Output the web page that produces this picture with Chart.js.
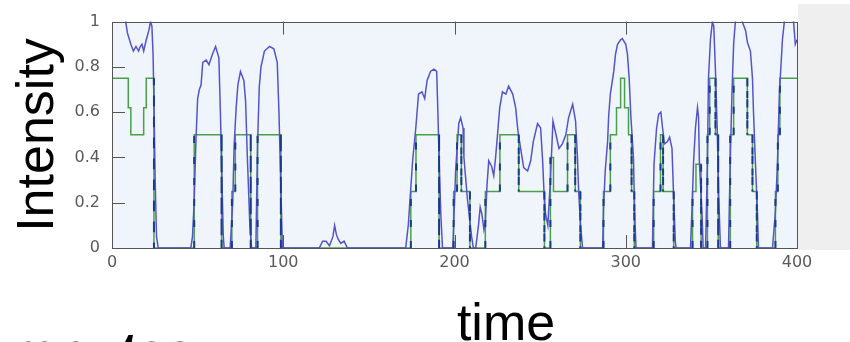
<!DOCTYPE html>
<html>
<head>
<meta charset="utf-8">
<script src="https://cdn.jsdelivr.net/npm/chart.js@4.4.0/dist/chart.umd.min.js"></script>
<style>
  html, body { margin: 0; padding: 0; width: 850px; height: 342px; overflow: hidden; background: #fff; }
  #wrap { position: relative; width: 850px; height: 342px; overflow: hidden; }
  #side { position: absolute; left: 798px; top: 4px; width: 52px; height: 246px; background: #efefef; }
  canvas { position: absolute; left: 0; top: 0; }
  .big { position: absolute; font-family: "Liberation Sans", Arial, sans-serif; font-size: 52px; line-height: 52px;
         color: #000; white-space: nowrap; text-align: center; }
  #ylab { left: -95px; top: 109px; width: 260px; height: 52px; transform: rotate(-90deg); }
  #xlab { left: 406px; top: 296px; width: 200px; }
  #frag { left: 8px; top: 325px; text-align: left; font-style: italic; font-weight: bold; }
</style>
</head>
<body>
<div id="wrap">
  <div id="side"></div>
  <canvas id="intensityChart" width="850" height="342"></canvas>
  <div class="big" id="ylab">Intensity</div>
  <div class="big" id="xlab">time</div>
  <div class="big" id="frag">mnutes:</div>
</div>
<script>
const blueTimes = [
  0, 7, 8, 9, 11, 12.5, 14, 15.5, 16.5, 17.5, 18.5, 20, 21.5, 22.5, 23.3, 24, 24.6, 25.2, 26, 27,
  46, 47, 48, 49, 50, 51, 52, 53, 55, 56.6, 58.6, 60.5, 62.4, 63.3, 64.2, 65, 65.5,
  69, 70.5, 71.3, 72.5, 73.5, 75, 77, 78, 79, 80.5, 81.5,
  84, 85, 86, 87, 89, 92, 94.5, 96.5, 97.5, 98.6, 99.5,
  121, 123, 125, 127, 129, 130, 131, 132, 133.6, 135.5, 137.5,
  171.5, 173, 175.6, 177.4, 179, 181, 182.6, 184, 186, 188, 189.6, 190.3, 191, 192, 193,
  199, 200, 200.7, 201.8, 202.5, 203.6, 205, 205.5, 207.5, 208.5, 210, 211,
  212.4, 214, 215, 216, 217.2, 218,
  219, 220, 221.7, 222.9, 224, 225, 226.4, 228, 230, 231.6, 234, 235.7, 237, 238.6, 240.4, 242.7,
  244.5, 246, 248.5, 250.3, 251.5, 252.3, 253.2, 254.5,
  256, 257.5, 259, 261, 263, 265, 266.6, 269, 269.8, 270.7, 271.8, 272.5, 273.6, 274.8,
  286.5, 287, 288, 289.4, 290, 291, 293, 294, 295.2, 297, 298, 300, 301, 302, 303, 304.5, 305.2, 306,
  315.6, 316.5, 318, 319.2, 320.5, 321.5, 322.6, 324.4, 325.6, 327, 327.9, 329, 329.5,
  337.8, 339, 339.6, 340.7, 341.9, 342.5, 343, 344.6, 345.2, 346.6, 347.7, 348.3, 349.5, 350.6,
  351.4, 352.4, 353.4, 354.2, 355.3,
  360, 361, 362, 363, 364, 366, 368, 370, 371, 372.8, 374, 374.6, 375.7, 376.9, 377.5,
  385.7, 387.4, 388.6, 389.7, 391.5, 392.6, 395, 398, 399, 400
];
const blueValues = [
  1.06, 1.03, 1.0, 0.95, 0.90, 0.87, 0.89, 0.87, 0.89, 0.90, 0.87, 0.92, 0.96, 1.0, 0.98, 0.85, 0.6, 0.3, 0.05, 0,
  0, 0.05, 0.21, 0.47, 0.66, 0.70, 0.72, 0.82, 0.83, 0.81, 0.855, 0.89, 0.84, 0.6, 0.3, 0.05, 0,
  0, 0.2, 0.45, 0.62, 0.72, 0.78, 0.74, 0.65, 0.41, 0.1, 0,
  0, 0.46, 0.71, 0.80, 0.87, 0.89, 0.88, 0.82, 0.6, 0.27, 0,
  0, 0.03, 0.03, 0.01, 0.05, 0.10, 0.06, 0.04, 0.02, 0.03, 0,
  0, 0.1, 0.39, 0.53, 0.68, 0.69, 0.66, 0.74, 0.78, 0.79, 0.78, 0.6, 0.4, 0.15, 0,
  0, 0.2, 0.35, 0.47, 0.55, 0.575, 0.53, 0.4, 0.22, 0.15, 0.05, 0,
  0, 0.1, 0.18, 0.15, 0.08, 0.11,
  0.28, 0.385, 0.36, 0.32, 0.40, 0.49, 0.62, 0.69, 0.68, 0.715, 0.68, 0.62, 0.52, 0.44, 0.355, 0.34,
  0.385, 0.47, 0.55, 0.53, 0.38, 0.24, 0.15, 0.1,
  0.3, 0.56, 0.51, 0.44, 0.46, 0.5, 0.575, 0.635, 0.6, 0.56, 0.4, 0.25, 0.1, 0,
  0, 0.17, 0.34, 0.47, 0.58, 0.68, 0.78, 0.855, 0.90, 0.92, 0.925, 0.90, 0.855, 0.75, 0.58, 0.4, 0.15, 0,
  0, 0.37, 0.53, 0.59, 0.6, 0.53, 0.46, 0.47, 0.49, 0.44, 0.24, 0.02, 0,
  0, 0.24, 0.38, 0.53, 0.62, 0.58, 0.38, 0.14, 0, 0, 0.38, 0.75, 0.925, 1.0,
  0.98, 0.78, 0.53, 0.25, 0,
  0, 0.38, 0.68, 0.9, 1.0, 1.03, 1.0, 0.96, 0.91, 0.87, 0.75, 0.6, 0.38, 0.16, 0,
  0, 0.16, 0.38, 0.68, 0.92, 1.0, 1.04, 1.0, 0.9, 0.92
];

// quantised level (green): level holds from each time until the next one
const greenTimes = [
  0, 9.5, 11, 18.5, 20, 24.5, 48, 64, 70, 72, 81, 85, 98.6,
  174.5, 177.5, 191, 199.5, 201.5, 204, 209, 218, 226.5, 237.5, 252.5,
  256, 257.8, 266, 270.5, 273.5, 287, 291, 294.6, 297, 299.3, 301.6, 303.4, 305,
  316.3, 320.3, 321.8, 328, 339, 341, 344, 347.7, 349, 352.4, 354,
  361, 363, 371, 374, 376.5, 387.4, 388.8, 390
];
const greenLevels = [
  0.75, 0.62, 0.5, 0.62, 0.75, 0, 0.5, 0, 0.25, 0.5, 0, 0.5, 0,
  0.25, 0.5, 0, 0.25, 0.5, 0.25, 0, 0.25, 0.5, 0.25, 0,
  0.4, 0.25, 0.5, 0.25, 0, 0.25, 0.5, 0.62, 0.75, 0.62, 0.5, 0.25, 0,
  0.25, 0.5, 0.25, 0, 0.25, 0.37, 0, 0.5, 0.75, 0.5, 0,
  0.5, 0.75, 0.5, 0.25, 0, 0.25, 0.5, 0.75
];

const xTickValues = [0, 100, 200, 300, 400];
const yTickValues = [0, 0.2, 0.4, 0.6, 0.8, 1];

function buildBluePoints() {
    return blueTimes.map( function( t, i ) {
        return { x: t, y: blueValues[ i ] };
    } );
}

function buildGreenPoints() {
    let pts = [];
    greenTimes.forEach( function( t, i ) {
        if ( i > 0 ) pts.push( { x: t, y: greenLevels[ i - 1 ] } );
        pts.push( { x: t, y: greenLevels[ i ] } );
    } );
    pts.push( { x: 400, y: greenLevels[ greenLevels.length - 1 ] } );
    return pts;
}

function isTallEdge( c ) {
    return c.p0.parsed.x === c.p1.parsed.x && Math.abs( c.p0.parsed.y - c.p1.parsed.y ) >= 0.2;
}

// light blue plot area, box and inward ticks (matlab style)
const frameBox = {
    id: 'frameBox',
    beforeDraw( chart ) {
        const a = chart.chartArea, ctx = chart.ctx;
        ctx.save();
        ctx.fillStyle = '#f0f5fc';
        ctx.fillRect( a.left, a.top, a.right - a.left, a.bottom - a.top );
        ctx.restore();
    },
    afterDatasetsDraw( chart ) {
        const a = chart.chartArea, ctx = chart.ctx;
        const xs = chart.scales.x, ys = chart.scales.y;
        ctx.save();
        ctx.strokeStyle = '#555';
        ctx.lineWidth = 1;
        ctx.beginPath();
        yTickValues.forEach( function( v ) {
            if ( v === 0 || v === 1 ) return;
            const py = Math.round( ys.getPixelForValue( v ) ) + 0.5;
            ctx.moveTo( a.left, py );
            ctx.lineTo( a.left + 13, py );
        } );
        xTickValues.forEach( function( v ) {
            if ( v === 0 || v === 400 ) return;
            const px = Math.round( xs.getPixelForValue( v ) ) + 0.5;
            ctx.moveTo( px, a.top );
            ctx.lineTo( px, a.top + 13 );
            ctx.moveTo( px, a.bottom );
            ctx.lineTo( px, a.bottom - 13 );
        } );
        ctx.stroke();
        ctx.strokeRect( Math.round( a.left ) + 0.5, Math.round( a.top ) + 0.5,
                        Math.round( a.right - a.left ), Math.round( a.bottom - a.top ) );
        ctx.restore();
    }
};

let ctx = document.getElementById( 'intensityChart' ).getContext( '2d' );
let greenPoints = buildGreenPoints();
let intensityChart = new Chart( ctx, {
    type: 'line',
    data: {
        datasets: [
            {
                label: 'edges',
                data: greenPoints,
                borderColor: 'rgba(0,0,0,0)',
                borderWidth: 2,
                segment: {
                    borderColor: c => isTallEdge( c ) ? '#1c3a8a' : 'rgba(0,0,0,0)',
                    borderDash: c => isTallEdge( c ) ? [ 7, 14 ] : undefined,
                },
                order: 1,
            },
            {
                label: 'intensity',
                data: buildBluePoints(),
                borderColor: '#5454c8',
                borderWidth: 1.5,
                order: 2,
            },
            {
                label: 'level',
                data: greenPoints,
                borderColor: '#48a048',
                borderWidth: 1.5,
                order: 3,
            },
        ],
    },
    options: {
        responsive: false,
        animation: false,
        layout: {
            padding: { left: 0, right: 53, top: 20, bottom: 0 },
            autoPadding: false,
        },
        elements: {
            point: { radius: 0 },
            line: { tension: 0 },
        },
        plugins: {
            legend: { display: false },
            tooltip: { enabled: false },
        },
        scales: {
            x: {
                type: 'linear',
                min: 0,
                max: 400,
                afterBuildTicks: s => { s.ticks = xTickValues.map( v => ( { value: v } ) ); },
                ticks: {
                    color: '#5a5a5a',
                    padding: 5,
                    maxRotation: 0,
                    font: { family: 'DejaVu Sans', size: 16 },
                },
                grid: { display: false, drawTicks: false },
                border: { display: false },
                afterFit: s => { s.height = 94; },
            },
            y: {
                min: 0,
                max: 1,
                afterBuildTicks: s => { s.ticks = yTickValues.map( v => ( { value: v } ) ); },
                ticks: {
                    color: '#5a5a5a',
                    padding: 12,
                    font: { family: 'DejaVu Sans', size: 16 },
                    callback: v => String( Number( v.toFixed( 1 ) ) ),
                },
                grid: { display: false, drawTicks: false },
                border: { display: false },
                afterFit: s => { s.width = 112; },
            },
        },
    },
    plugins: [ frameBox ],
} );
</script>
</body>
</html>
